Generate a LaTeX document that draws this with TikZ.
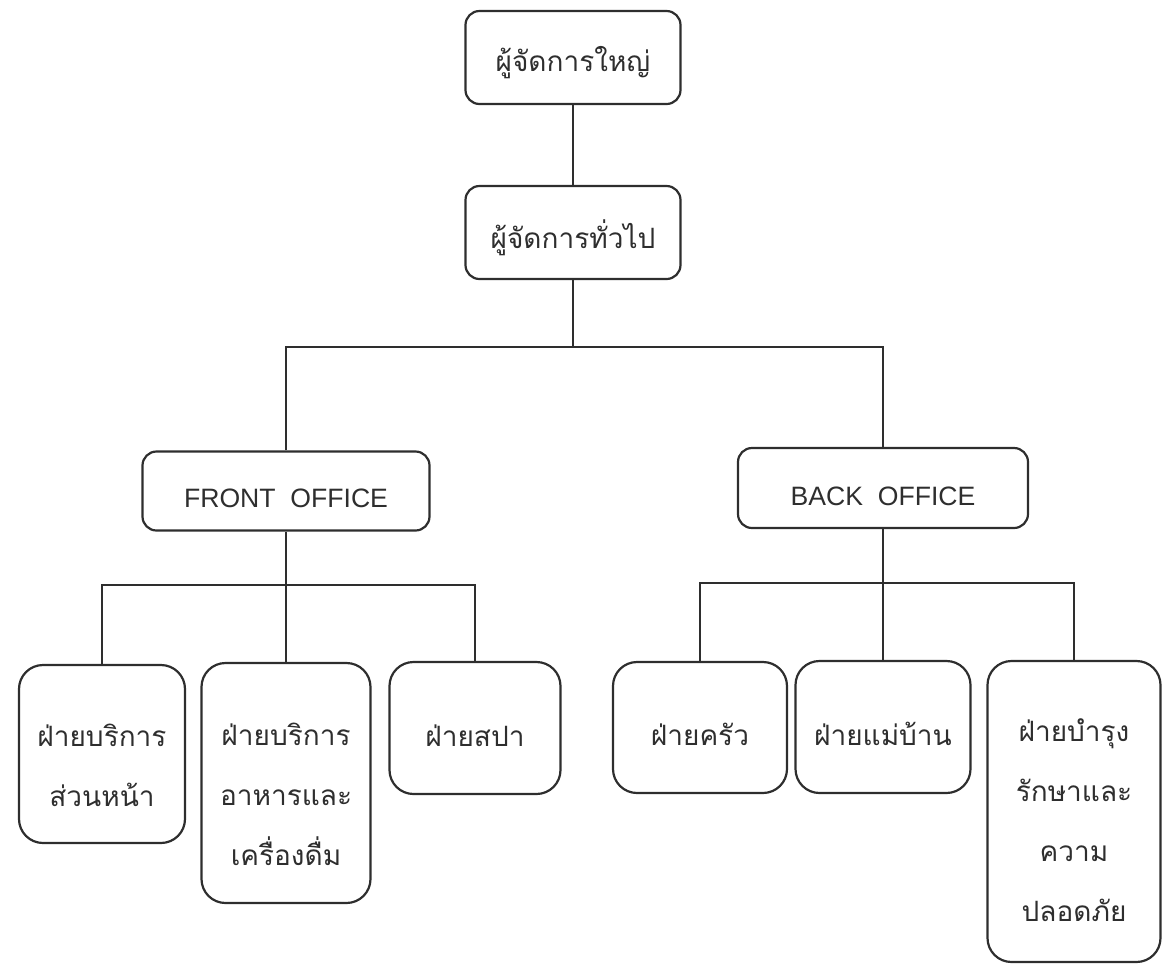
\documentclass[tikz,border=0pt]{standalone}
\usepackage{fontspec}
\setmainfont{Liberation Sans}
\newfontfamily\thaifont[Script=Thai]{Loma}
\usepackage{xcolor}
\usepackage{tikz}
\usetikzlibrary{positioning}
\definecolor{ink}{HTML}{2E2E2E}
\tikzset{
  lower/.style={text height=#1,text depth=0pt},
  post/.style={draw=ink,text=ink,line width=1.1pt,rounded corners=7pt,align=center,
    inner sep=0pt,font=\thaifont\fontsize{14}{30}\selectfont},
  office/.style={post,font=\fontsize{13.3}{16}\selectfont},
  section/.style={post,rounded corners=12pt},
  links/.style={draw=ink,line width=1pt},
  chart/.style={x=0.5pt,y=-0.5pt}
}
\begin{document}
\begin{tikzpicture}[chart]
  \useasboundingbox (0,0) rectangle (1163,965);
  % top of the chart
  \node[post,lower=13.5pt,minimum width=107.5pt,minimum height=46.5pt] (md) at (573,57.5) {ผู้จัดการใหญ่};
  \node[post,lower=15.5pt,minimum width=107.5pt,minimum height=46.5pt] (gm) at (573,232.5) {ผู้จัดการทั่วไป};
  \node[office,lower=16.5pt,minimum width=143.5pt,minimum height=39.5pt] (fo) at (286,491) {FRONT\ \ OFFICE};
  \node[office,lower=17.5pt,minimum width=145pt,minimum height=40pt] (bo) at (883,488) {BACK\ \ OFFICE};
  \coordinate (split) at (573,347);
  \coordinate (fbus) at (286,585);
  \coordinate (bbus) at (883,583);
  % departments
  \node[section,lower=52pt,minimum width=83pt,minimum height=89pt] (fo1) at (102,754) {ฝ่ายบริการ\\ส่วนหน้า};
  \node[section,lower=82pt,minimum width=84.5pt,minimum height=120pt] (fo2) at (286,783) {ฝ่ายบริการ\\อาหารและ\\เครื่องดื่ม};
  \node[section,lower=18pt,minimum width=85.5pt,minimum height=66pt] (fo3) at (475,728) {ฝ่ายสปา};
  \node[section,lower=17.5pt,minimum width=87pt,minimum height=65.5pt] (bo1) at (700,727.5) {ฝ่ายครัว};
  \node[section,lower=18pt,minimum width=87.5pt,minimum height=66pt] (bo2) at (883,727) {ฝ่ายแม่บ้าน};
  \node[section,lower=109.5pt,minimum width=86.5pt,minimum height=150.5pt] (bo3) at (1074,811.5) {ฝ่ายบำรุง\\รักษาและ\\ความ\\ปลอดภัย};
  \path[links]
    (md) -- (gm)
    (gm) -- (split)
    (fo.north) |- (split) -| (bo.north)
    (fo) -- (fo2)
    (fo1.north) |- (fbus) -| (fo3.north)
    (bo) -- (bo2)
    (bo1.north) |- (bbus) -| (bo3.north);
\end{tikzpicture}
\end{document}
